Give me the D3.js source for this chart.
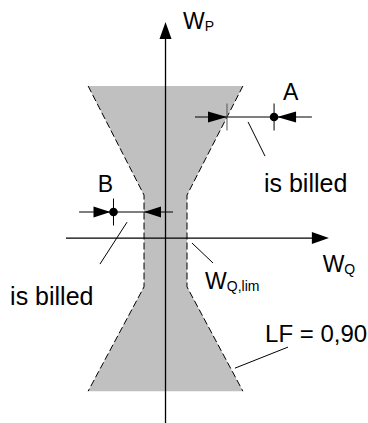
<!DOCTYPE html>
<html>
<head>
<meta charset="utf-8">
<script src="https://cdn.jsdelivr.net/npm/d3@7"></script>
<style>
  body { margin: 0; background: #fff; }
  svg { display: block; font-family: "Liberation Sans", Arial, sans-serif; }
</style>
</head>
<body>
<svg id="chart" width="368" height="423"></svg>
<script>
const width = 368;
const height = 423;

// Zone autorisée (W_Q horizontal, W_P vertical), unités arbitraires
const boundaryWQ = [-3.6, 3.6, 1.0, 1.0, 3.6, -3.6, -1.0, -1.0];
const boundaryWP = [7.07, 7.07, 2.0, -2.27, -7.12, -7.12, -2.27, 2.0];
const leftEdge = [0, 7, 6, 5];   // indices des bords en pointillé
const rightEdge = [1, 2, 3, 4];

const wqAxis = [-4.63, 7.6];
const wpAxis = [-8.6, 10.05];

// Cotes A et B : niveau W_P, début, fin, bord, point
const dimNames = ["A", "B"];
const dimWP = [5.63, 1.21];
const dimFrom = [1.37, -4.02];
const dimTo = [6.81, 0.35];
const dimEdge = [2.86, -1.0];
const dimDot = [5.05, -2.42];

const lfValue = "0,90";

const svg = d3.select("#chart");

const x = d3.scaleLinear().domain([-7.7, 9.42]).range([0, width]);
const y = d3.scaleLinear().domain([-8.6, 11.07]).range([height, 0]);

const pts = boundaryWQ.map((q, i) => [x(q), y(boundaryWP[i])]);
const line = d3.line();

// Surface grise
svg.append("path")
  .attr("d", line(pts) + "Z")
  .attr("fill", "#c0c0c0");

// Bords en pointillé
[leftEdge, rightEdge].forEach(e => {
  svg.append("path")
    .attr("d", line(e.map(i => pts[i])))
    .attr("fill", "none")
    .attr("stroke", "#000")
    .attr("stroke-width", 1)
    .attr("stroke-dasharray", "7,3");
});

function arrow(tx, ty, dx, dy, len, half) {
  // tx,ty = pointe ; dx,dy = direction de la flèche
  const bx = tx - dx * len, by = ty - dy * len;
  const px = -dy * half, py = dx * half;
  svg.append("path")
    .attr("d", `M${tx},${ty}L${bx + px},${by + py}L${bx - px},${by - py}Z`)
    .attr("fill", "#000");
}

function seg(a, b, w = 1.1, col = "#000") {
  svg.append("line")
    .attr("x1", a[0]).attr("y1", a[1])
    .attr("x2", b[0]).attr("y2", b[1])
    .attr("stroke", col)
    .attr("stroke-width", w);
}

// Axes
seg([x(wqAxis[0]), y(0)], [x(wqAxis[1]) - 10, y(0)], 1.3);
arrow(x(wqAxis[1]), y(0), 1, 0, 17, 6);
seg([x(0), y(wpAxis[0])], [x(0), y(wpAxis[1]) + 10], 1.3);
arrow(x(0), y(wpAxis[1]), 0, -1, 17, 6);

// Cotes
dimNames.forEach((name, i) => {
  const yy = y(dimWP[i]);
  seg([x(dimFrom[i]), yy], [x(dimTo[i]), yy], 1.1);
  const dot = x(dimDot[i]);
  const edge = x(dimEdge[i]);
  seg([dot, yy - 13.5], [dot, yy + 13.5], 1);
  svg.append("circle").attr("cx", dot).attr("cy", yy).attr("r", 4.3).attr("fill", "#000");
  if (dot > edge) {
    seg([edge, yy - 13.5], [edge, yy + 13.5], 1, "#555");
    arrow(edge, yy, 1, 0, 19, 5.5);
    arrow(dot + 3, yy, -1, 0, 19, 5.5);
  } else {
    arrow(dot - 3, yy, 1, 0, 17, 5.5);
    arrow(edge, yy, -1, 0, 17, 5.5);
  }
});

// Traits de rappel
const leaders = [
  [[3.84, 5.40], [4.63, 3.81]],
  [[-1.79, 0.74], [-3.05, -1.21]],
  [[1.23, -0.23], [2.21, -1.16]],
  [[3.23, -6.05], [5.70, -5.07]]
];
leaders.forEach(l => seg([x(l[0][0]), y(l[0][1])], [x(l[1][0]), y(l[1][1])], 1));

// Textes
function label(q, p, main, sub, size = 23, anchor = "start") {
  const t = svg.append("text")
    .attr("x", x(q)).attr("y", y(p))
    .attr("font-size", size)
    .attr("text-anchor", anchor)
    .attr("fill", "#000")
    .text(main);
  if (sub) {
    t.append("tspan").attr("font-size", 14).attr("dy", 2).text(sub);
  }
}

label(5.82, 6.42, dimNames[0], null, 23, "middle");
label(-2.79, 2.14, dimNames[1], null, 23, "middle");
label(4.58, 2.14, "is billed", null, 25);
label(-7.23, -3.12, "is billed", null, 25);
label(0.81, 9.74, "W", "P");
label(7.31, -1.57, "W", "Q");
label(1.84, -2.37, "W", "Q,lim");
label(4.63, -4.84, "LF = " + lfValue, null, 24);
</script>
</body>
</html>
